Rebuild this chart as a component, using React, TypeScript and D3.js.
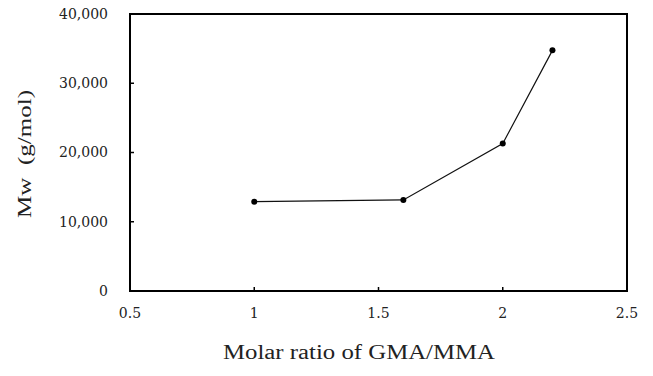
import React, { useRef, useEffect } from "react";
import * as d3 from "d3";

const ratios = [1, 1.6, 2, 2.2];
const mwValues = [12900, 13150, 21300, 34750];
const xTicks = [0.5, 1, 1.5, 2, 2.5];
const yTicks = [0, 10000, 20000, 30000, 40000];

export default function App() {
  const svgRef = useRef<SVGSVGElement>(null);

  useEffect(() => {
    if (!svgRef.current) return;
    const width = 653;
    const height = 376;
    const margin = { top: 14, right: 26, bottom: 85, left: 130 };

    const svg = d3.select(svgRef.current);
    svg.selectAll("*").remove();
    svg.attr("width", width).attr("height", height);

    const x = d3.scaleLinear().domain([0.5, 2.5]).range([margin.left, width - margin.right]);
    const y = d3.scaleLinear().domain([0, 40000]).range([height - margin.bottom, margin.top]);

    const font = "'DejaVu Serif', serif";
    const titleFont = "'Liberation Serif', serif";

    // inward ticks
    svg
      .append("g")
      .selectAll("line")
      .data(yTicks.slice(1, -1))
      .join("line")
      .attr("x1", margin.left)
      .attr("x2", margin.left + 4)
      .attr("y1", (d) => y(d))
      .attr("y2", (d) => y(d))
      .attr("stroke", "#000")
      .attr("stroke-width", 1.5);

    svg
      .append("g")
      .selectAll("line")
      .data(xTicks.slice(1, -1))
      .join("line")
      .attr("x1", (d) => x(d))
      .attr("x2", (d) => x(d))
      .attr("y1", y(0))
      .attr("y2", y(0) - 4)
      .attr("stroke", "#000")
      .attr("stroke-width", 1.5);

    // frame
    svg
      .append("rect")
      .attr("x", x(0.5))
      .attr("y", y(40000))
      .attr("width", x(2.5) - x(0.5))
      .attr("height", y(0) - y(40000))
      .attr("fill", "none")
      .attr("stroke", "#000")
      .attr("stroke-width", 2);

    // tick labels
    svg
      .append("g")
      .selectAll("text")
      .data(yTicks)
      .join("text")
      .attr("x", 108)
      .attr("y", (d) => y(d))
      .attr("dy", "0.35em")
      .attr("text-anchor", "end")
      .attr("font-family", font)
      .attr("font-size", 14)
      .attr("fill", "#222")
      .text((d) => d3.format(",")(d));

    svg
      .append("g")
      .selectAll("text")
      .data(xTicks)
      .join("text")
      .attr("x", (d) => x(d))
      .attr("y", 313)
      .attr("dy", "0.35em")
      .attr("text-anchor", "middle")
      .attr("font-family", font)
      .attr("font-size", 14)
      .attr("fill", "#222")
      .text((d) => String(d));

    // axis titles
    svg
      .append("text")
      .attr("x", 359)
      .attr("y", 359)
      .attr("text-anchor", "middle")
      .attr("font-family", titleFont)
      .attr("font-size", 20)
      .attr("textLength", 272)
      .attr("lengthAdjust", "spacingAndGlyphs")
      .attr("fill", "#222")
      .text("Molar ratio of GMA/MMA");

    svg
      .append("text")
      .attr("transform", "translate(24,154) rotate(-90)")
      .attr("dy", "0.35em")
      .attr("text-anchor", "middle")
      .attr("font-family", titleFont)
      .attr("font-size", 19)
      .attr("textLength", 128)
      .attr("lengthAdjust", "spacingAndGlyphs")
      .attr("fill", "#222")
      .text("Mw\u00a0\u00a0(g/mol)");

    // series
    const data = ratios.map((r, i) => [r, mwValues[i]] as [number, number]);
    const line = d3
      .line<[number, number]>()
      .x((d) => x(d[0]))
      .y((d) => y(d[1]));

    svg
      .append("path")
      .datum(data)
      .attr("d", line)
      .attr("fill", "none")
      .attr("stroke", "#111")
      .attr("stroke-width", 1.2);

    svg
      .append("g")
      .selectAll("circle")
      .data(data)
      .join("circle")
      .attr("cx", (d) => x(d[0]))
      .attr("cy", (d) => y(d[1]))
      .attr("r", 3)
      .attr("fill", "#000");
  }, []);

  return (
    <svg
      ref={svgRef}
      style={{ position: "absolute", left: 0, top: 0, display: "block", background: "#fff" }}
    ></svg>
  );
}
